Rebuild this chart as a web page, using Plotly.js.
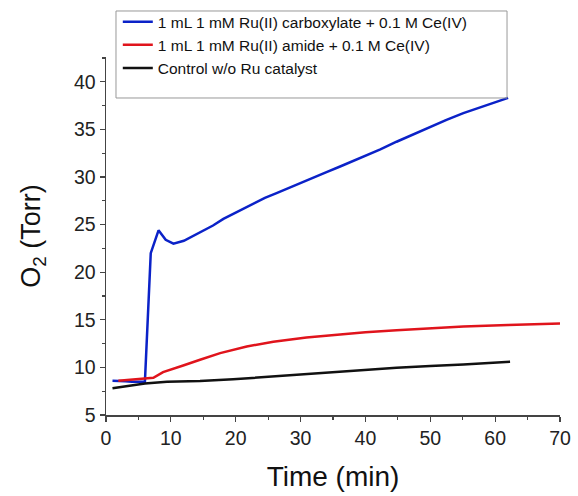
<!DOCTYPE html>
<html>
<head>
<meta charset="utf-8">
<script src="https://cdn.plot.ly/plotly-3.0.1.min.js"></script>
<style>html,body{margin:0;padding:0;background:#fff;}#chart{width:578px;height:496px;}</style>
</head>
<body>
<div id="chart"></div>
<script>
// Data
const seriesNames = [
  "1 mL 1 mM Ru(II) carboxylate + 0.1 M Ce(IV)",
  "1 mL 1 mM Ru(II) amide + 0.1 M Ce(IV)",
  "Control w/o Ru catalyst"
];
const blueTime = [1.0, 2, 3, 4, 5, 6.0, 6.9, 8.1, 9.2, 10.4, 12.0, 14.5, 16.5, 18.1, 20.5, 22.7, 24.5, 26.3, 29.0, 31.5, 34.0, 36.1, 39.7, 42.3, 44.8, 47.5, 50.0, 52.5, 55.1, 58.5, 62.0];
const blueO2   = [8.6, 8.6, 8.55, 8.5, 8.5, 8.5, 22.0, 24.4, 23.4, 23.0, 23.3, 24.2, 24.9, 25.6, 26.4, 27.2, 27.8, 28.3, 29.1, 29.8, 30.5, 31.1, 32.1, 32.9, 33.7, 34.5, 35.3, 36.0, 36.7, 37.5, 38.3];
const redTime  = [1.9, 4.0, 6.0, 7.3, 8.8, 10.3, 11.9, 14.5, 17.6, 21.7, 25.8, 30.9, 36.1, 40.0, 44.8, 50.0, 55.1, 62.0, 70.0];
const redO2    = [8.6, 8.7, 8.8, 8.9, 9.5, 9.8, 10.2, 10.8, 11.5, 12.2, 12.7, 13.15, 13.5, 13.7, 13.9, 14.1, 14.3, 14.45, 14.6];
const blackTime = [1.0, 3.5, 6.0, 9.4, 14.5, 19.6, 24.8, 29.9, 34.5, 39.5, 44.8, 50.0, 55.1, 62.3];
const blackO2   = [7.8, 8.05, 8.3, 8.5, 8.57, 8.75, 9.0, 9.27, 9.44, 9.7, 9.97, 10.15, 10.3, 10.6];
const xTicks = [0, 10, 20, 30, 40, 50, 60, 70];
const yTicks = [5, 10, 15, 20, 25, 30, 35, 40];

const font = 'Arial, "Liberation Sans", sans-serif';
const traces = [
  {x: blueTime, y: blueO2, name: seriesNames[0], mode: 'lines', line: {color: '#0b22c8', width: 2.5}},
  {x: redTime, y: redO2, name: seriesNames[1], mode: 'lines', line: {color: '#e0141c', width: 2.5}},
  {x: blackTime, y: blackO2, name: seriesNames[2], mode: 'lines', line: {color: '#111111', width: 2.5}}
];

const axisCommon = {
  showline: true, linecolor: '#444', linewidth: 1.5, mirror: false,
  showgrid: false, zeroline: false,
  ticks: 'outside', ticklen: 5, tickwidth: 1.2, tickcolor: '#444',
  tickfont: {family: font, size: 19.5, color: '#222'}
};

const layout = {
  width: 578, height: 496,
  margin: {l: 106, r: 18, t: 57, b: 81, autoexpand: false},
  paper_bgcolor: '#fff', plot_bgcolor: '#fff',
  showlegend: true,
  legend: {
    x: 0.026, y: 1.145, xanchor: 'left', yanchor: 'top',
    bgcolor: 'rgba(0,0,0,0)', borderwidth: 0,
    font: {family: font, size: 15.5, color: '#111'},
    tracegroupgap: 0
  },
  shapes: [{
    type: 'rect', xref: 'paper', yref: 'paper',
    x0: 0.022, x1: 0.8833, y0: 0.8855, y1: 1.1285,
    line: {color: '#999', width: 1}, fillcolor: 'rgba(255,255,255,0)', layer: 'above'
  }],
  xaxis: Object.assign({}, axisCommon, {
    range: [0, 70], tickvals: xTicks, ticktext: xTicks.map(String),
    minor: {dtick: 5, tick0: 0, ticks: 'outside', ticklen: 3, tickwidth: 1.2, tickcolor: '#444'},
    title: {text: 'Time (min)', font: {family: font, size: 28, color: '#111'}, standoff: 18}
  }),
  yaxis: Object.assign({}, axisCommon, {
    range: [5, 42.6], tickvals: yTicks, ticktext: yTicks.map(String),
    minor: {dtick: 2.5, tick0: 5, ticks: 'outside', ticklen: 3, tickwidth: 1.2, tickcolor: '#444'},
    title: {text: 'O<sub>2</sub> (Torr)', font: {family: font, size: 27, color: '#111'}, standoff: 25}
  })
};

Plotly.newPlot('chart', traces, layout, {displayModeBar: false, staticPlot: true});
</script>
</body>
</html>
